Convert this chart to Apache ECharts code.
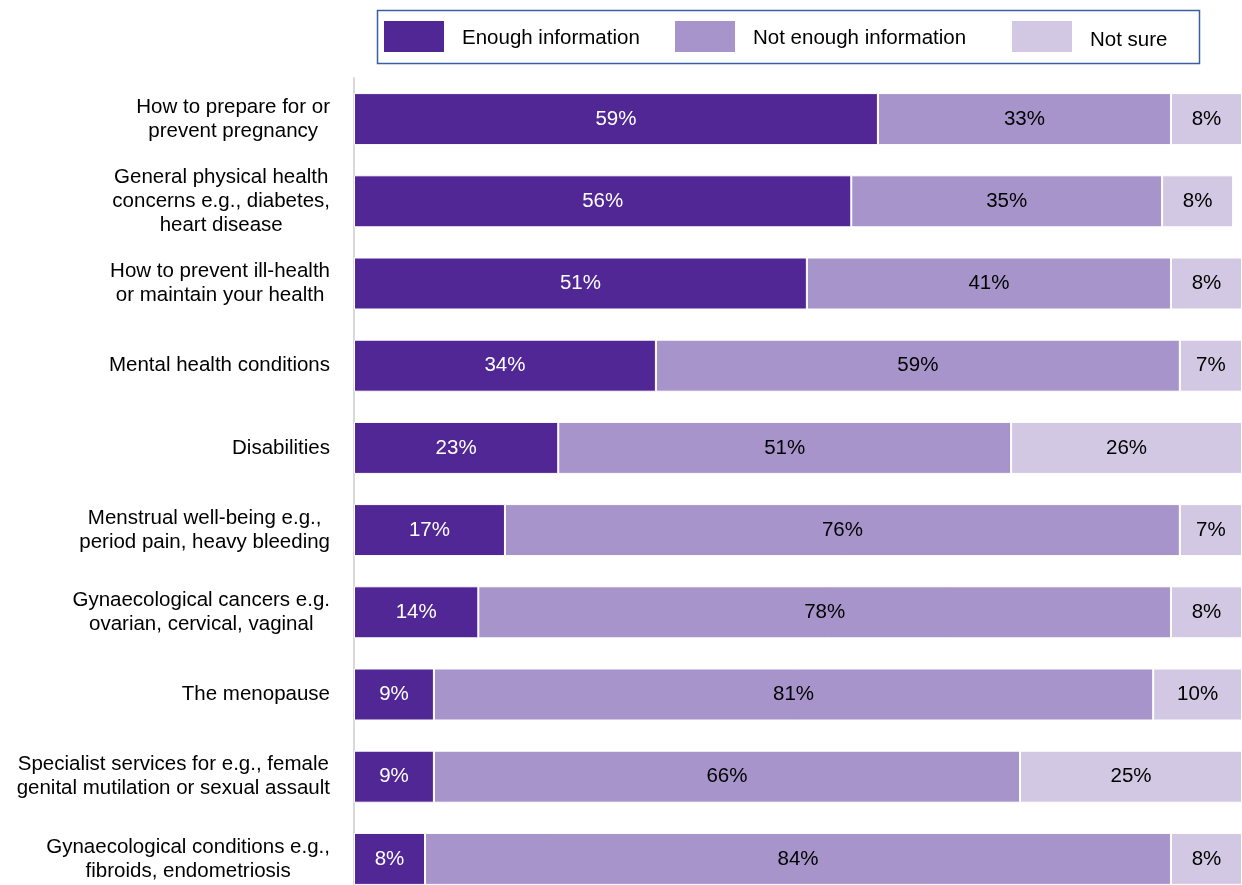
<!DOCTYPE html>
<html>
<head>
<meta charset="utf-8">
<script src="https://cdn.jsdelivr.net/npm/echarts@6/dist/echarts.min.js"></script>
<style>
  html, body { margin: 0; padding: 0; background: #fff; }
  #chart { width: 1242px; height: 885px; }
</style>
</head>
<body>
<div id="chart"></div>
<script>
// Topics asked about, top to bottom
const categories = [
  'How to prepare for or\nprevent pregnancy',
  'General physical health\nconcerns e.g., diabetes,\nheart disease',
  'How to prevent ill-health\nor maintain your health',
  'Mental health conditions',
  'Disabilities',
  'Menstrual well-being e.g.,\nperiod pain, heavy bleeding',
  'Gynaecological cancers e.g.\novarian, cervical, vaginal',
  'The menopause',
  'Specialist services for e.g., female\ngenital mutilation or sexual assault',
  'Gynaecological conditions e.g.,\nfibroids, endometriosis'
];

// Share of respondents (%) per answer
const enough    = [59, 56, 51, 34, 23, 17, 14, 9, 9, 8];
const notEnough = [33, 35, 41, 59, 51, 76, 78, 81, 66, 84];
const notSure   = [8, 8, 8, 7, 26, 7, 8, 10, 25, 8];

const seriesNames = ['Enough information', 'Not enough information', 'Not sure'];
const colors = ['#512695', '#A794CB', '#D3C8E3'];
const labelColors = ['#ffffff', '#000000', '#000000'];
const values = [enough, notEnough, notSure];

const chart = echarts.init(document.getElementById('chart'), null, { renderer: 'canvas' });

const font = 'Liberation Sans, Arial, sans-serif';
const fs = 20.5;

// legend entries sit at fixed offsets inside one framed box
const legendLeft = [382, 673, 1010];
const legendTextShift = [4, 4, 8];

const option = {
  animation: false,
  backgroundColor: '#ffffff',
  textStyle: { fontFamily: font },
  graphic: [{
    type: 'rect',
    shape: { x: 377.5, y: 10.5, width: 822, height: 53 },
    style: { fill: 'none', stroke: '#3A5FA0', lineWidth: 1.5 },
    z: 0
  }],
  legend: seriesNames.map((n, i) => ({
    data: [n],
    left: legendLeft[i],
    top: 19,
    padding: 0,
    itemWidth: 62,
    itemHeight: 33,
    icon: 'rect',
    formatter: '{t|{name}}',
    textStyle: {
      fontFamily: font,
      fontSize: fs,
      color: '#000',
      rich: {
        t: {
          fontFamily: font,
          fontSize: fs,
          color: '#000',
          padding: [legendTextShift[i], 0, 0, 12]
        }
      }
    }
  })),
  grid: {
    left: 354,
    right: 0,
    top: 78,
    height: 822,
    containLabel: false,
    outerBoundsMode: 'none'
  },
  xAxis: {
    type: 'value',
    min: 0,
    max: 100,
    show: false
  },
  yAxis: {
    type: 'category',
    data: categories,
    inverse: true,
    axisLine: { show: true, lineStyle: { color: '#D9D9D9', width: 2 } },
    axisTick: { show: false },
    axisLabel: {
      margin: 24,
      fontFamily: font,
      fontSize: fs,
      color: '#000',
      align: 'right',
      formatter: function (v) {
        return v.split('\n').map(s => '{c|' + s + '}').join('\n');
      },
      rich: {
        c: { align: 'center', fontSize: fs, lineHeight: 24, fontFamily: font, color: '#000' }
      }
    }
  },
  series: seriesNames.map((n, i) => ({
    name: n,
    type: 'bar',
    stack: 'total',
    barWidth: 52,
    data: values[i],
    itemStyle: { color: colors[i], borderColor: '#ffffff', borderWidth: 1 },
    label: {
      show: true,
      position: 'inside',
      formatter: '{c}%',
      fontFamily: font,
      fontSize: fs,
      color: labelColors[i]
    }
  }))
};

chart.setOption(option);
</script>
</body>
</html>
